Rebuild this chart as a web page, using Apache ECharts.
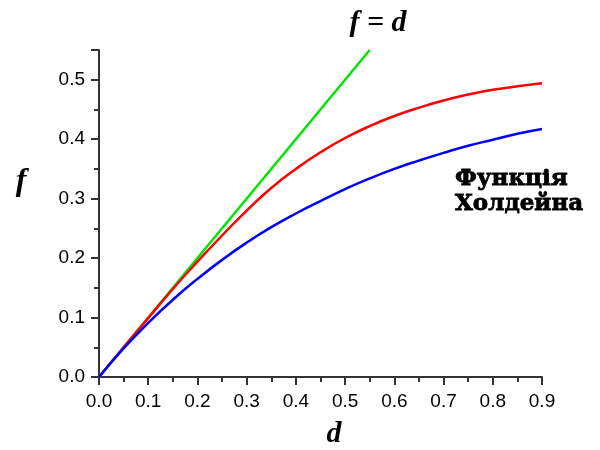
<!DOCTYPE html>
<html>
<head>
<meta charset="utf-8">
<script src="https://cdn.jsdelivr.net/npm/echarts@6/dist/echarts.min.js"></script>
<style>
  html,body{margin:0;padding:0;background:#fff;}
  #chart{width:600px;height:450px;}
</style>
</head>
<body>
<div id="chart"></div>
<script>
  // d values (Morgans) and recombination fractions
  const dVals = [0, 0.05, 0.1, 0.15, 0.2, 0.25, 0.3, 0.35, 0.4, 0.45, 0.5, 0.55, 0.6, 0.65, 0.7, 0.75, 0.8, 0.85, 0.9];
  const redF  = [0, 0.050, 0.099, 0.148, 0.194, 0.238, 0.280, 0.318, 0.350, 0.378, 0.402, 0.422, 0.439, 0.453, 0.465, 0.475, 0.483, 0.489, 0.494];
  const blueF = [0, 0.048, 0.091, 0.130, 0.165, 0.197, 0.226, 0.252, 0.275, 0.296, 0.316, 0.334, 0.350, 0.364, 0.377, 0.389, 0.399, 0.409, 0.417];
  const greenD = [0, 0.55];
  const greenF = [0, 0.55];

  const $ = (id)=>document.getElementById(id);
  const pairs = (xs, ys)=>xs.map((x,i)=>[x, ys[i]]);

  const axisCommon = {
    axisLine:{show:true, onZero:false, lineStyle:{color:'#333', width:2}},
    axisTick:{show:true, inside:false, length:8, lineStyle:{color:'#333', width:2}},
    minorTick:{show:true, splitNumber:2, length:5, lineStyle:{color:'#333', width:2}},
    splitLine:{show:false},
    axisLabel:{color:'#000', fontFamily:'Liberation Sans', fontSize:19, margin:14,
               formatter:v=>Number(v).toFixed(1)}
  };

  const chart = echarts.init($('chart'));
  chart.setOption({
    animation:false,
    backgroundColor:'#fff',
    grid:{left:99, right:58, top:50, bottom:73, containLabel:false},
    xAxis:Object.assign({type:'value', min:0, max:0.9, interval:0.1}, axisCommon,
      {axisLabel:Object.assign({}, axisCommon.axisLabel, {margin:15})}),
    yAxis:Object.assign({type:'value', min:0, max:0.55, interval:0.1}, axisCommon,
      {axisLabel:Object.assign({}, axisCommon.axisLabel, {showMaxLabel:false})}),
    series:[
      {type:'line', data:pairs(greenD, greenF), showSymbol:false,
       lineStyle:{color:'#00e600', width:2.5}},
      {type:'line', data:pairs(dVals, redF), showSymbol:false, smooth:true,
       lineStyle:{color:'#ff0000', width:2.5}},
      {type:'line', data:pairs(dVals, blueF), showSymbol:false, smooth:true,
       lineStyle:{color:'#0000ff', width:2.5}}
    ],
    graphic:[
      {type:'text', x:334, y:434, style:{text:'d', font:'bold italic 30px "Liberation Serif", serif', fill:'#000', align:'center', verticalAlign:'middle'}},
      {type:'text', x:21, y:182, style:{text:'f', font:'bold italic 32px "Liberation Serif", serif', fill:'#000', align:'center', verticalAlign:'middle'}},
      {type:'text', x:378, y:23, style:{text:'f = d', font:'bold italic 30px "Liberation Serif", serif', fill:'#000', align:'center', verticalAlign:'middle'}},
      {type:'text', x:455, y:167, style:{text:'Функція\nХолдейна', font:'bold 23px "DejaVu Serif", serif', lineHeight:25, fill:'#000', stroke:'#000', lineWidth:0.8, align:'left', verticalAlign:'top'}}
    ]
  });
</script>
</body>
</html>
